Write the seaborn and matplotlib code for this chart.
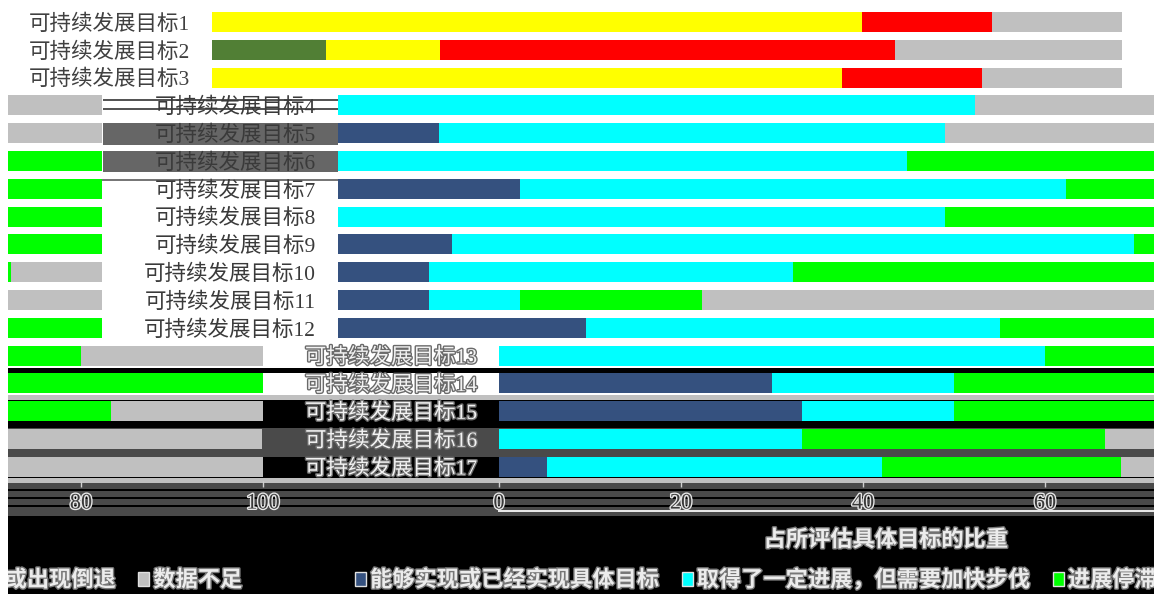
import numpy as np
import pandas as pd
import matplotlib
matplotlib.use("Agg")
import matplotlib.pyplot as plt
import matplotlib.patheffects as pe
from matplotlib.patches import Rectangle, Patch
import seaborn as sns

# ---------------- data ----------------
goals = [f"可持续发展目标{i}" for i in range(1, 18)]
achieved = [0, 12.5, 0, 0, 11.1, 0, 20, 0, 12.5, 10, 10, 27.3, 0, 30, 33.3, 0, 5.3]
progress = [71.4, 12.5, 69.2, 70, 55.6, 62.5, 60, 66.7, 75, 40, 10, 45.5, 60, 20, 16.7, 33.3, 36.8]
stalled = [14.3, 50, 15.4, 0, 0, 37.5, 20, 33.3, 12.5, 40, 20, 27.3, 20, 50, 33.3, 33.3, 26.3]
nodata = [14.3, 25, 15.4, 30, 33.3, 0, 0, 0, 0, 10, 60, 0, 20, 0, 16.7, 33.3, 31.6]
series_names = ["能够实现或已经实现具体目标", "取得了一定进展，但需要加快步伐", "进展停滞或出现倒退", "数据不足"]
xticks = [0, 20, 40, 60, 80, 100]
xlabel = "占所评估具体目标的比重"

df = pd.DataFrame({"goal": goals, "a": achieved, "p": progress, "s": stalled, "n": nodata})
cum = np.cumsum(df[["a", "p", "s", "n"]].to_numpy(), axis=1)

# ---------------- style ----------------
sns.set_style("white")
plt.rcParams["font.family"] = ["Liberation Serif", "Noto Sans CJK SC", "DejaVu Sans"]
CJK = ["Noto Sans CJK SC", "DejaVu Sans"]

colors = ["#35517f", "#00ffff", "#00ff00", "#c0c0c0"]
# first rows appear with rotated colour channels
def rot(c):
    r, g, b = matplotlib.colors.to_rgb(c)
    return (g, b, r)
colors_rot = [rot(c) for c in colors]

FW, FH = 1154, 594
fig = plt.figure(figsize=(FW / 100, FH / 100), dpi=100, facecolor="white")

def px_axes(x, ytop, w, h):
    return fig.add_axes([x / FW, 1 - (ytop + h) / FH, w / FW, h / FH])

def px_rect(x, ytop, w, h, color, z=-5):
    fig.add_artist(Rectangle((x / FW, 1 - (ytop + h) / FH), w / FW, h / FH,
                             transform=fig.transFigure, facecolor=color,
                             edgecolor="none", zorder=z))

# background artefacts
bg = [
    (0, 368, FW, 5, "black"),
    (0, 395, FW, 5, "#c0c0c0"),
    (0, 400, FW, 28, "black"),
    (0, 428, FW, 29, "#4a4a4a"),
    (0, 457, FW, 21, "black"),
    (0, 478, FW, 5, "#c0c0c0"),
    (0, 483, FW, 33, "#4a4a4a"),
    (0, 516, FW, 78, "black"),
    (0, 489, FW, 2, "black"),
    (0, 497, FW, 2, "black"),
    (0, 505, FW, 2, "black"),
    (498, 510, FW - 498, 2, "#e8e8e8"),
    (103, 123, 235, 22, "#666666"),
    (103, 151, 235, 21, "#666666"),
    (103, 99, 235, 2, "#555555"),
    (103, 108, 235, 2, "#555555"),
    (8, 179, 330, 2, "#777777"),
]
for r in bg:
    px_rect(*r)

X0 = 212
SCALE = 910
W = 1146
ROW0, PITCH = 22, 27.8

def draw_band(rows, shift, cols, label_color, label_fx, ticks, copy=False):
    top = ROW0 + rows[0] * PITCH - PITCH / 2
    bot = ROW0 + rows[-1] * PITCH + PITCH / 2
    left = X0 + shift - (W if copy else 0)
    ax = px_axes(left, top, SCALE, bot - top)
    ax.set_facecolor("none")
    sub = df.iloc[rows]
    order = list(sub["goal"])
    for k in reversed(range(4)):
        sns.barplot(x=cum[rows, k], y=order, order=order, orient="h",
                    color=cols[k], saturation=1, width=0.72, errorbar=None,
                    linewidth=0, ax=ax)
    ax.set_xlim(0, 100)
    ax.set_ylim(len(rows) - 0.5, -0.5)
    for sp in ax.spines.values():
        sp.set_visible(False)
    ax.set_ylabel("")
    ax.set_xlabel("")
    ax.tick_params(axis="y", length=0, pad=16, labelsize=15.5, labelcolor=label_color)
    for t in ax.get_yticklabels():
        t.set_fontfamily(["Liberation Serif", "Noto Sans CJK SC"])
        if label_fx:
            t.set_path_effects(label_fx)
    if copy:
        ax.set_yticks([])
    if ticks:
        ax.set_xticks(ticks)
        ax.set_xticklabels([str(v) for v in ticks])
        ax.tick_params(axis="x", bottom=True, length=4, width=1, color="#d0d0d0",
                       pad=6, labelsize=16, labelcolor="#3a3a3a")
        for t in ax.get_xticklabels():
            t.set_path_effects([pe.withStroke(linewidth=2, foreground="#e6e6e6")])
    else:
        ax.set_xticks([])
    return ax

light_fx = [pe.withStroke(linewidth=2, foreground="#6a6a6a")]

draw_band(list(range(0, 3)), 0, colors_rot, "#404040", None, None)
draw_band(list(range(3, 12)), 126, colors, "#3a3a3a", None, None)
draw_band(list(range(3, 12)), 126, colors, "#3a3a3a", None, None, copy=True)
axC = draw_band(list(range(12, 17)), 287, colors, "#f2f2f2", light_fx, xticks[:4])
draw_band(list(range(12, 17)), 287, colors, "#f2f2f2", light_fx, xticks[4:], copy=True)

# axis label
axC.set_xlabel(xlabel, fontsize=16, fontweight="bold", family=CJK, color="#ececec")
axC.xaxis.label.set_va("center")
axC.xaxis.set_label_coords((886 - 499) / SCALE, -(540 - 480.9) / 139.0)
axC.xaxis.label.set_path_effects([pe.withStroke(linewidth=2, foreground="#777777")])

# legend (shown twice because the row wraps around)
handles = [Patch(facecolor=c, edgecolor="#e0e0e0", linewidth=1) for c in colors]
for xpos in (355, 355 - W - 6):
    leg = fig.legend(handles, series_names, loc="center left",
                     bbox_to_anchor=(xpos / FW, 1 - 580 / FH), ncol=4,
                     frameon=False, borderaxespad=0, borderpad=0,
                     handlelength=0.5, handleheight=0.6, handletextpad=0.18,
                     columnspacing=1.0,
                     prop=dict(family=CJK, weight="bold", size=16))
    for t in leg.get_texts():
        t.set_color("#ececec")
        t.set_path_effects([pe.withStroke(linewidth=2, foreground="#777777")])

# white left margin
px_rect(0, 90, 8, FH - 90, "white", z=20)

fig.savefig("out.png", dpi=100, facecolor="white")
